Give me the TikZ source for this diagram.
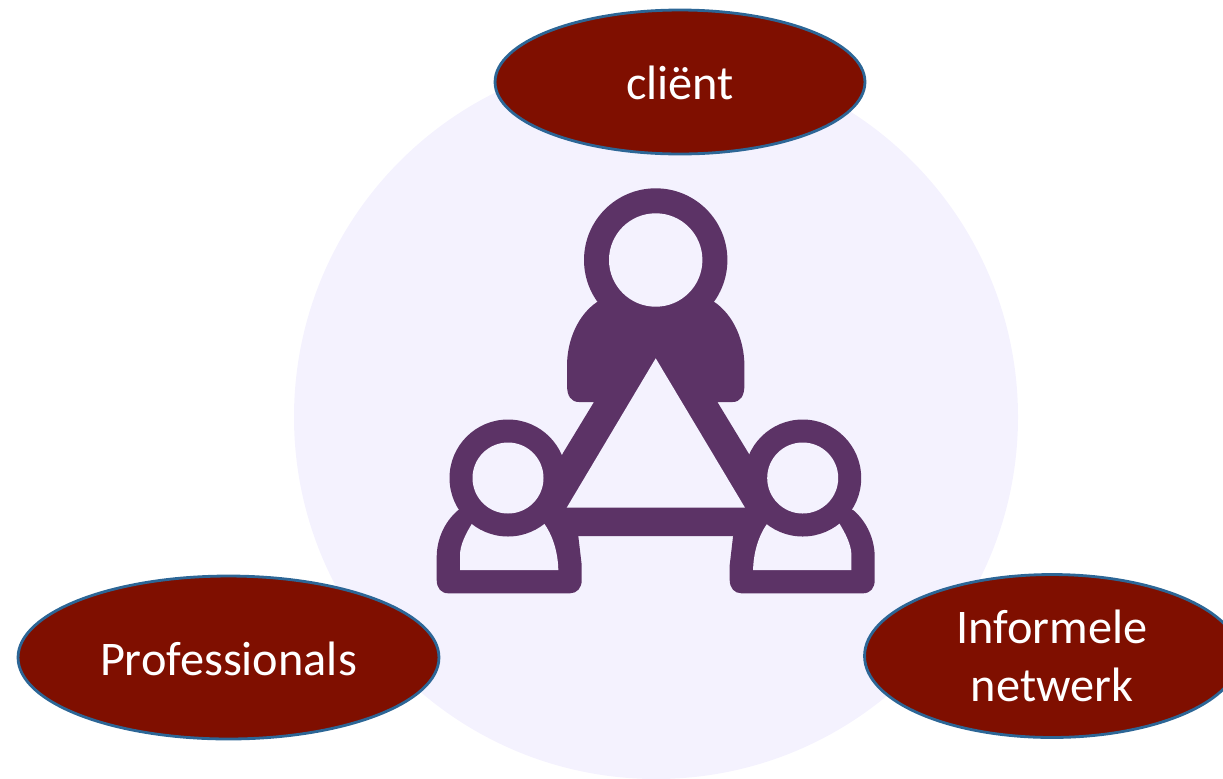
\documentclass[tikz,border=0pt]{standalone}
\usepackage{fontspec}
\setmainfont{Carlito}
\usetikzlibrary{shapes.geometric}
\definecolor{discbg}{HTML}{F4F2FE}
\definecolor{iconpurple}{HTML}{5C3366}
\definecolor{ovalred}{HTML}{7F0F00}
\definecolor{ovalline}{HTML}{2C6696}
\tikzset{
    oval/.style={ellipse,draw=ovalline,line width=1.6pt,fill=ovalred,text=white,inner sep=0pt,align=center,font=\fontsize{27.5}{33}\selectfont,execute at begin node={\rule{0pt}{#1}}},
    oval/.default=20.2pt,
    iconfill/.style={fill=iconpurple},
    iconhole/.style={fill=discbg}
}

\begin{document}
\begin{tikzpicture}[x=0.02cm,y=-0.02cm]
    \useasboundingbox (0,0) rectangle (1223,778);
    \clip (0,0) rectangle (1223,778);
    % Disc
    \fill [discbg] (656,417) circle (362);
    % Top body and triangle
    \path [iconfill] (597,302) .. controls (578,315) and (567,340) .. (567,366) -- (567,385)
        .. controls (567,396) and (571,402) .. (579,402) -- (594,402) -- (563,453) -- (540,500)
        -- (578,536) -- (733.4,536) -- (771.4,500) -- (748.4,453) -- (717.4,402) -- (732.4,402)
        .. controls (740.4,402) and (744.4,396) .. (744.4,385) -- (744.4,366)
        .. controls (744.4,340) and (733.4,315) .. (714.4,302) -- cycle;
    \path [iconhole] (655.7,358.3) -- (566.7,507.7) -- (745,507.7) -- cycle;
    % Left body
    \path [iconfill] (458.3,510) .. controls (444,522) and (436.7,540) .. (436.7,557) -- (436.7,580)
        .. controls (436.7,588) and (441,593.3) .. (448.3,593.3) -- (570,593.3)
        .. controls (577,593.3) and (581.7,588) .. (581.7,580) -- (581.7,565) -- (578.3,536) -- (560,505) -- cycle;
    \path [iconhole] (460,570) -- (460,555) .. controls (460,545) and (466,533) .. (473,522)
        -- (543,522) .. controls (553,535) and (558,553) .. (558.3,570) -- cycle;
    % Right body
    \path [iconfill] (853.1,510) .. controls (867.4,522) and (874.7,540) .. (874.7,557) -- (874.7,580)
        .. controls (874.7,588) and (870.4,593.3) .. (863.1,593.3) -- (741.4,593.3)
        .. controls (734.4,593.3) and (729.7,588) .. (729.7,580) -- (729.7,565) -- (733.1,536) -- (751.4,505) -- cycle;
    \path [iconhole] (851.4,570) -- (851.4,555) .. controls (851.4,545) and (845.4,533) .. (838.4,522)
        -- (768.4,522) .. controls (758.4,535) and (753.4,553) .. (753.1,570) -- cycle;
    % Heads
    \path [iconfill] (655.7,260) circle (71.7);
    \path [iconhole] (655.7,260) circle (46.7);
    \path [iconfill] (508,478) circle (58.5);
    \path [iconhole] (508,478) circle (35.5);
    \path [iconfill] (802.7,478) circle (58.5);
    \path [iconhole] (802.7,478) circle (35.5);
    % Ovals
    \node [oval,minimum width=7.4cm,minimum height=2.88cm] (client) at (680,82) {cliënt};
    \node [oval,minimum width=8.42cm,minimum height=3.26cm] (prof) at (228.5,657.5) {Professionals};
    \node [oval=26.5pt,minimum width=7.5cm,minimum height=3.26cm] (netwerk) at (1052,656) {Informele\\netwerk};
\end{tikzpicture}
\end{document}
